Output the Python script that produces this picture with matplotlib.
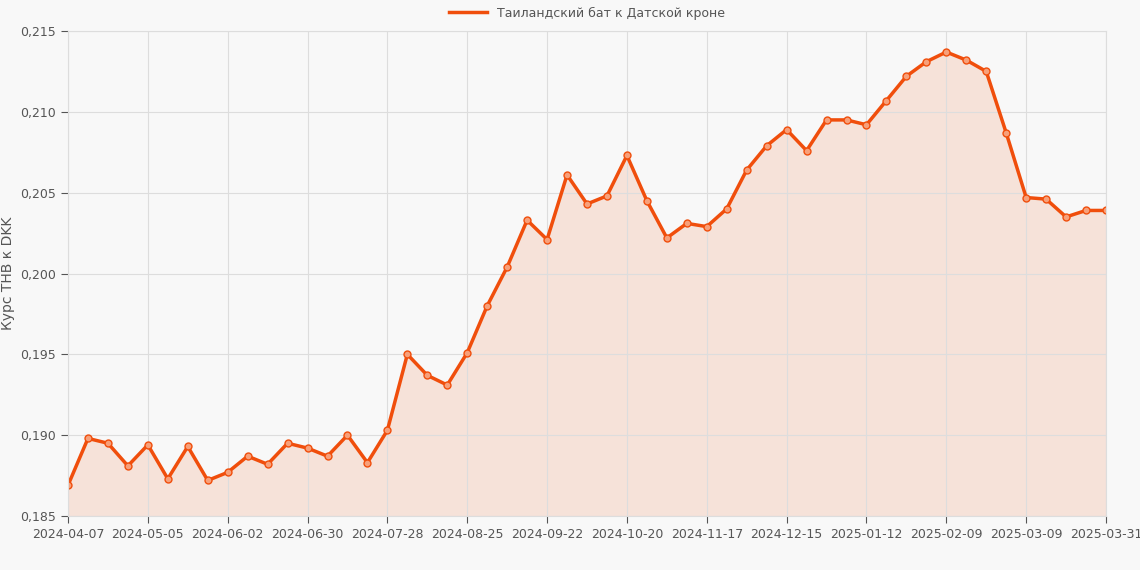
import matplotlib
matplotlib.use("Agg")
import matplotlib.pyplot as plt
import numpy as np

tick_labels = ["2024-04-07", "2024-05-05", "2024-06-02", "2024-06-30", "2024-07-28",
               "2024-08-25", "2024-09-22", "2024-10-20", "2024-11-17", "2024-12-15",
               "2025-01-12", "2025-02-09", "2025-03-09", "2025-03-31"]
rates = [0.1869, 0.1898, 0.1895, 0.1881, 0.1894, 0.1873, 0.1893, 0.1872, 0.1877, 0.1887,
         0.1882, 0.1895, 0.1892, 0.1887, 0.1900, 0.1883, 0.1903, 0.1950, 0.1937, 0.1931,
         0.1951, 0.1980, 0.2004, 0.2033, 0.2021, 0.2061, 0.2043, 0.2048, 0.2073, 0.2045,
         0.2022, 0.2031, 0.2029, 0.2040, 0.2064, 0.2079, 0.2089, 0.2076, 0.2095, 0.2095,
         0.2092, 0.2107, 0.2122, 0.2131, 0.2137, 0.2132, 0.2125, 0.2087, 0.2047, 0.2046,
         0.2035, 0.2039, 0.2039]

x = np.arange(len(rates))
col = "#f04e0c"

fig = plt.figure(figsize=(11.4, 5.7), dpi=100, facecolor="#f8f8f8")
ax = fig.add_axes([68/1140, 54/570, 1038/1140, 485/570])
ax.set_facecolor("#f8f8f8")

ax.fill_between(x, rates, 0.185, color=col, alpha=0.13, linewidth=0)
ax.plot(x, rates, color=col, linewidth=2.5, marker="o", markersize=5,
        markerfacecolor="#f7a07a", markeredgecolor=col, markeredgewidth=1,
        label="Таиландский бат к Датской кроне")

ticks = list(range(0, 49, 4)) + [52]
ax.set_xticks(ticks)
ax.set_xticklabels(tick_labels)
ax.set_xlim(0, 52)
ax.set_ylim(0.185, 0.215)
ax.set_yticks(np.arange(0.185, 0.2151, 0.005))
ax.set_yticklabels([f"{v:.3f}".replace(".", ",") for v in np.arange(0.185, 0.2151, 0.005)])
ax.tick_params(colors="#555555", labelsize=9, length=5)
ax.grid(color="#dddddd", linewidth=0.8)
for s in ax.spines.values():
    s.set_color("#dddddd")
ax.set_ylabel("Курс THB к DKK", color="#555555", fontsize=10)

leg = ax.legend(loc="lower center", bbox_to_anchor=(0.5, 1.0), frameon=False, fontsize=9,
                handlelength=3)
for t in leg.get_texts():
    t.set_color("#555555")
h = leg.legend_handles[0]
h.set_marker("")

fig.savefig("out.png", dpi=100, facecolor=fig.get_facecolor())
